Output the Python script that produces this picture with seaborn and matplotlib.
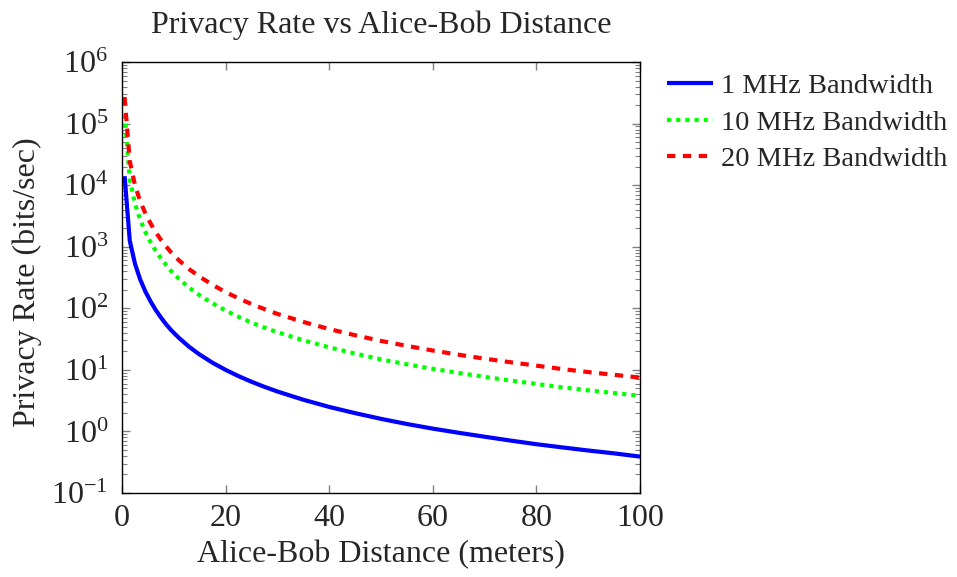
import matplotlib
matplotlib.use("Agg")
import matplotlib.pyplot as plt
import matplotlib.ticker as mticker
import numpy as np
import pandas as pd
import seaborn as sns

distance = [0.5, 1.5, 2.5, 3.5, 4.5, 5.5, 6.5, 7.5, 8.5, 9.5, 11, 13, 15, 17.5, 20,
            22.5, 25, 27.5, 30, 35, 40, 45, 50, 55, 60, 65, 70, 75, 80, 85, 90, 95, 100]
rate_1mhz = [14000, 1250, 530, 295, 188, 130, 94, 71, 55, 44, 33, 23.5, 17.7, 13, 10,
             7.9, 6.4, 5.3, 4.45, 3.27, 2.5, 1.98, 1.6, 1.32, 1.11, 0.95, 0.82, 0.71,
             0.62, 0.55, 0.49, 0.44, 0.39]
rate_10mhz = [140000, 12300, 5000, 2750, 1740, 1190, 860, 650, 505, 400, 300, 215, 162,
              120, 92, 72.5, 58.5, 48.5, 40.8, 30.2, 23.2, 18.4, 14.8, 12.3, 10.4, 8.9,
              7.7, 6.7, 5.9, 5.2, 4.65, 4.2, 3.8]
rate_20mhz = [270000, 24500, 10000, 5500, 3500, 2400, 1730, 1300, 1010, 805, 600, 430,
              325, 240, 183, 145, 117, 97, 81, 60, 46, 36.5, 29.5, 24.5, 20.6, 17.6,
              15.2, 13.3, 11.7, 10.3, 9.2, 8.3, 7.5]
labels = ["1 MHz Bandwidth", "10 MHz Bandwidth", "20 MHz Bandwidth"]

sns.set_style("ticks")
plt.rcParams["font.family"] = ["Liberation Serif", "DejaVu Serif"]
plt.rcParams["mathtext.fontset"] = "stix"

fig = plt.figure(figsize=(9.57, 5.77), dpi=100)
ax = fig.add_axes([0.1275, 0.1456, 0.5413, 0.7469])

styles = [
    dict(color=(0, 0, 1), linestyle="-"),
    dict(color=(0, 1, 0), linestyle=(0, (1, 1.2))),
    dict(color=(1, 0, 0), linestyle=(0, (2, 1.8))),
]
for y, lab, st in zip([rate_1mhz, rate_10mhz, rate_20mhz], labels, styles):
    df = pd.DataFrame({"d": distance, "r": y})
    sns.lineplot(data=df, x="d", y="r", ax=ax, label=lab, linewidth=3,
                 color=st["color"], linestyle=st["linestyle"], solid_capstyle="butt",
                 dash_capstyle="butt", solid_joinstyle="round")

ax.set_yscale("log")
ax.set_xlim(0, 100)
ax.set_ylim(1e-1, 1e6)
ax.set_xticks([0, 20, 40, 60, 80, 100])
ax.yaxis.set_major_locator(mticker.LogLocator(base=10, numticks=20))
ax.yaxis.set_minor_locator(mticker.LogLocator(base=10, subs=np.arange(2, 10), numticks=20))
ax.yaxis.set_minor_formatter(mticker.NullFormatter())
ax.tick_params(axis="both", which="both", direction="in", top=True, right=True,
               labelsize=23, color="#808080")
ax.tick_params(axis="both", which="major", length=6, width=1)
ax.tick_params(axis="both", which="minor", length=3.5, width=0.8)
ax.tick_params(axis="y", which="major", pad=10)
ax.tick_params(axis="x", which="major", pad=8)
for s in ax.spines.values():
    s.set_linewidth(1)
    s.set_color("black")

ax.set_xlabel("Alice-Bob Distance (meters)", fontsize=23, labelpad=5)
ax.set_ylabel("Privacy Rate (bits/sec)", fontsize=23)
ax.yaxis.set_label_coords(-0.154, 0.49)
ax.set_title("Privacy Rate vs Alice-Bob Distance", fontsize=23, pad=21)

leg = ax.legend(loc="upper left", bbox_to_anchor=(1.03, 1.0), frameon=False,
                fontsize=20.5, handlelength=1.6, handletextpad=0.3, labelspacing=0.36,
                borderaxespad=0)

fig.savefig("out.png", dpi=100)
